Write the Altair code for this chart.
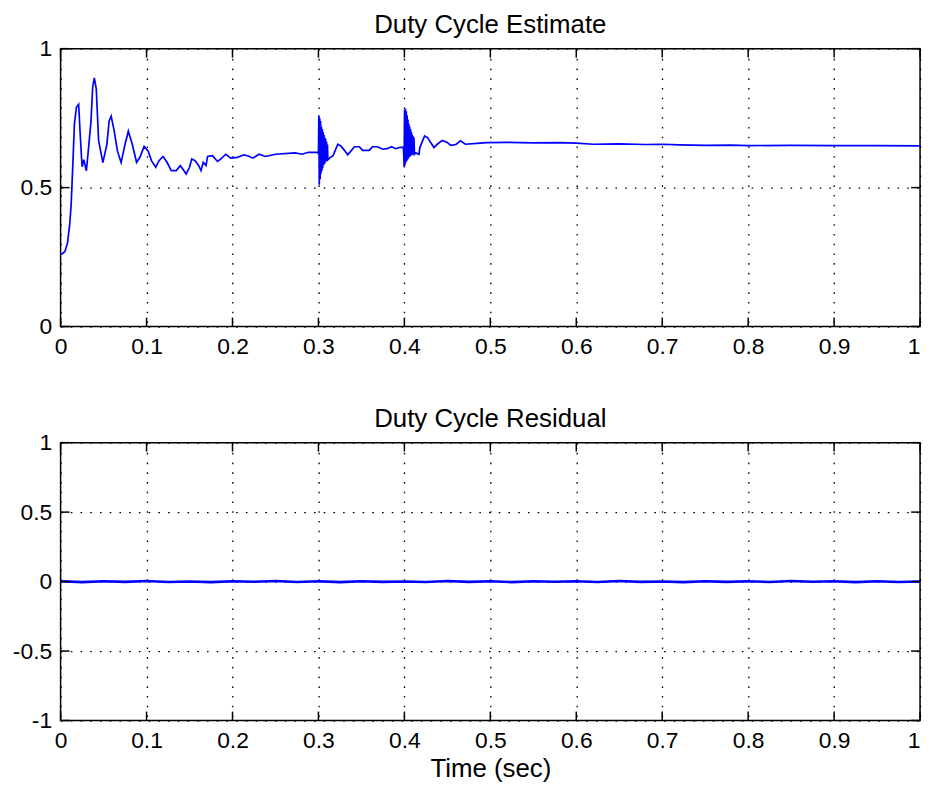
import altair as alt
import pandas as pd

# ---- data ----
est_time = [
    0.000, 0.002, 0.005, 0.008, 0.0107, 0.0123, 0.0142, 0.0161, 0.0185, 0.021,
    0.023, 0.025, 0.027, 0.030, 0.0326, 0.0354, 0.0373, 0.0392, 0.0415, 0.0442,
    0.0492, 0.0538, 0.0565, 0.0588, 0.0623, 0.0661, 0.0704, 0.075, 0.0788, 0.0834,
    0.0884, 0.0923, 0.0972, 0.1018, 0.1057, 0.1107, 0.1145, 0.1192, 0.1238, 0.1288,
    0.1346, 0.1392, 0.1422, 0.1461, 0.150, 0.1526, 0.1565, 0.1607, 0.1634, 0.166,
    0.1692, 0.171, 0.1768, 0.1826, 0.1865, 0.1922, 0.198, 0.2057, 0.2134, 0.2191,
    0.2238, 0.2307, 0.2384, 0.25, 0.273, 0.2807, 0.2884, 0.2995,
    0.3000, 0.3005, 0.3010, 0.3015, 0.3020, 0.3025, 0.3030, 0.3035, 0.3040, 0.3045,
    0.3050, 0.3055, 0.3060, 0.3065, 0.3070, 0.3075, 0.3080, 0.3085, 0.3090, 0.3095,
    0.3100, 0.3105, 0.3110,
    0.3135, 0.317, 0.3226, 0.326, 0.3303, 0.334, 0.3379, 0.3418, 0.3476, 0.3514,
    0.3591, 0.3629, 0.3687, 0.375, 0.38, 0.385, 0.39, 0.395, 0.3988,
    0.3992, 0.3997, 0.4002, 0.4007, 0.4012, 0.4017, 0.4022, 0.4027, 0.4032, 0.4037,
    0.4042, 0.4047, 0.4052, 0.4057, 0.4062, 0.4067, 0.4072, 0.4077, 0.4082, 0.4087,
    0.4092, 0.4097, 0.4102, 0.4107, 0.4112, 0.4117,
    0.413, 0.417, 0.418, 0.4235, 0.427, 0.4306, 0.4345, 0.4383, 0.444, 0.45,
    0.454, 0.46, 0.4652, 0.471, 0.4844, 0.4959, 0.52, 0.55, 0.58, 0.60,
    0.62, 0.65, 0.68, 0.70, 0.72, 0.75, 0.78, 0.80, 0.85, 0.90, 0.95, 1.0,
]
est_value = [
    0.26, 0.262, 0.27, 0.30, 0.37, 0.44, 0.58, 0.73, 0.79, 0.80,
    0.68, 0.575, 0.60, 0.56, 0.645, 0.74, 0.86, 0.895, 0.855, 0.67,
    0.59, 0.655, 0.74, 0.757, 0.705, 0.632, 0.59, 0.656, 0.703, 0.656,
    0.591, 0.609, 0.648, 0.632, 0.597, 0.573, 0.597, 0.612, 0.591, 0.561,
    0.561, 0.579, 0.567, 0.549, 0.573, 0.603, 0.597, 0.579, 0.561, 0.591,
    0.579, 0.612, 0.615, 0.594, 0.603, 0.62, 0.606, 0.609, 0.618, 0.613,
    0.606, 0.62, 0.612, 0.62, 0.625, 0.62, 0.627, 0.627,
    0.62, 0.76, 0.51, 0.75, 0.53, 0.74, 0.55, 0.72, 0.56, 0.71,
    0.57, 0.70, 0.58, 0.69, 0.585, 0.68, 0.59, 0.675, 0.595, 0.665,
    0.60, 0.655, 0.60,
    0.608, 0.615, 0.656, 0.65, 0.634, 0.618, 0.632, 0.647, 0.647, 0.634,
    0.634, 0.647, 0.647, 0.638, 0.64, 0.647, 0.64, 0.645, 0.645,
    0.62, 0.575, 0.78, 0.58, 0.785, 0.59, 0.775, 0.595, 0.76, 0.60,
    0.745, 0.605, 0.73, 0.61, 0.72, 0.612, 0.71, 0.615, 0.70, 0.617,
    0.69, 0.618, 0.685, 0.62, 0.68, 0.62,
    0.625, 0.62, 0.644, 0.686, 0.68, 0.662, 0.644, 0.656, 0.67, 0.662,
    0.652, 0.655, 0.668, 0.656, 0.659, 0.662, 0.663, 0.661, 0.662, 0.660,
    0.656, 0.657, 0.655, 0.656, 0.654, 0.652, 0.653, 0.651, 0.652, 0.651, 0.651, 0.650,
]

res_time = [
    0.000, 0.025, 0.050, 0.075, 0.100, 0.125, 0.150, 0.175, 0.200, 0.225,
    0.250, 0.275, 0.300, 0.325, 0.350, 0.375, 0.400, 0.425, 0.450, 0.475,
    0.500, 0.525, 0.550, 0.575, 0.600, 0.625, 0.650, 0.675, 0.700, 0.725,
    0.750, 0.775, 0.800, 0.825, 0.850, 0.875, 0.900, 0.925, 0.950, 0.975, 1.000,
]
res_value = [
    0.002, -0.004, 0.003, -0.002, 0.004, -0.003, 0.001, -0.004, 0.003, -0.001,
    0.004, -0.003, 0.002, -0.004, 0.003, -0.002, 0.001, -0.003, 0.004, -0.002,
    0.003, -0.004, 0.002, -0.001, 0.003, -0.003, 0.004, -0.002, 0.001, -0.004,
    0.003, -0.002, 0.002, -0.003, 0.004, -0.001, 0.003, -0.004, 0.002, -0.003, 0.001,
]

x_ticks = [0, 0.1, 0.2, 0.3, 0.4, 0.5, 0.6, 0.7, 0.8, 0.9, 1]
y_ticks_est = [0, 0.5, 1]
y_ticks_res = [-1, -0.5, 0, 0.5, 1]

W, H = 866, 280
TICK = 9
FONT = "Liberation Sans"


def panel(df, ydom, yticks, title, xtitle, lw):
    common = dict(
        grid=True, gridColor="black", gridDash=[1.6, 8.2], gridWidth=1.3,
        ticks=False, domain=False, labelFont=FONT, labelFontSize=23,
        labelColor="black", labelFlush=False, labelExpr="toString(datum.value)",
    )
    x_axis = alt.Axis(values=x_ticks, labelPadding=9, title=xtitle,
                      labelAlign={"condition": {"test": "datum.value == 1", "value": "right"},
                                  "value": "center"},
                      titleFont=FONT, titleFontSize=26, titleFontWeight="normal",
                      titleColor="black", titlePadding=3, **common)
    y_axis = alt.Axis(values=yticks, labelPadding=9, title=None, **common)
    xs = alt.Scale(domain=[0, 1], nice=False, zero=False)
    ys = alt.Scale(domain=ydom, nice=False, zero=False)

    line = alt.Chart(df).mark_line(color="#0000ff", strokeWidth=lw).encode(
        x=alt.X("t:Q", scale=xs, axis=x_axis),
        y=alt.Y("v:Q", scale=ys, axis=y_axis),
    )
    xt = pd.DataFrame({"t": x_ticks})
    yt = pd.DataFrame({"v": yticks})
    rule = dict(color="black", strokeWidth=1.5)
    tb = alt.Chart(xt).mark_rule(**rule).encode(
        x=alt.X("t:Q", scale=xs), y=alt.value(H), y2=alt.value(H - TICK))
    tt = alt.Chart(xt).mark_rule(**rule).encode(
        x=alt.X("t:Q", scale=xs), y=alt.value(0), y2=alt.value(TICK))
    tl = alt.Chart(yt).mark_rule(**rule).encode(
        y=alt.Y("v:Q", scale=ys), x=alt.value(0), x2=alt.value(TICK))
    tr = alt.Chart(yt).mark_rule(**rule).encode(
        y=alt.Y("v:Q", scale=ys), x=alt.value(W), x2=alt.value(W - TICK))
    return alt.layer(line, tb, tt, tl, tr).properties(
        width=W, height=H,
        title=alt.TitleParams(title, font=FONT, fontSize=26, fontWeight="normal",
                              color="black", offset=0, frame="group"),
    )


est_df = pd.DataFrame({"t": est_time, "v": est_value})
res_df = pd.DataFrame({"t": res_time, "v": res_value})

top = panel(est_df, [0, 1], y_ticks_est, "Duty Cycle Estimate", None, 1.7)
bottom = panel(res_df, [-1, 1], y_ticks_res, "Duty Cycle Residual", "Time (sec)", 2.6)

chart = alt.vconcat(top, bottom, spacing=117, bounds="flush").properties(
    padding={"left": 3, "top": 0, "right": 0, "bottom": 0},
    background="white",
).configure_view(stroke="black", strokeWidth=1.5)

chart.save("out.html", embed_options={"renderer": "svg", "actions": False})
